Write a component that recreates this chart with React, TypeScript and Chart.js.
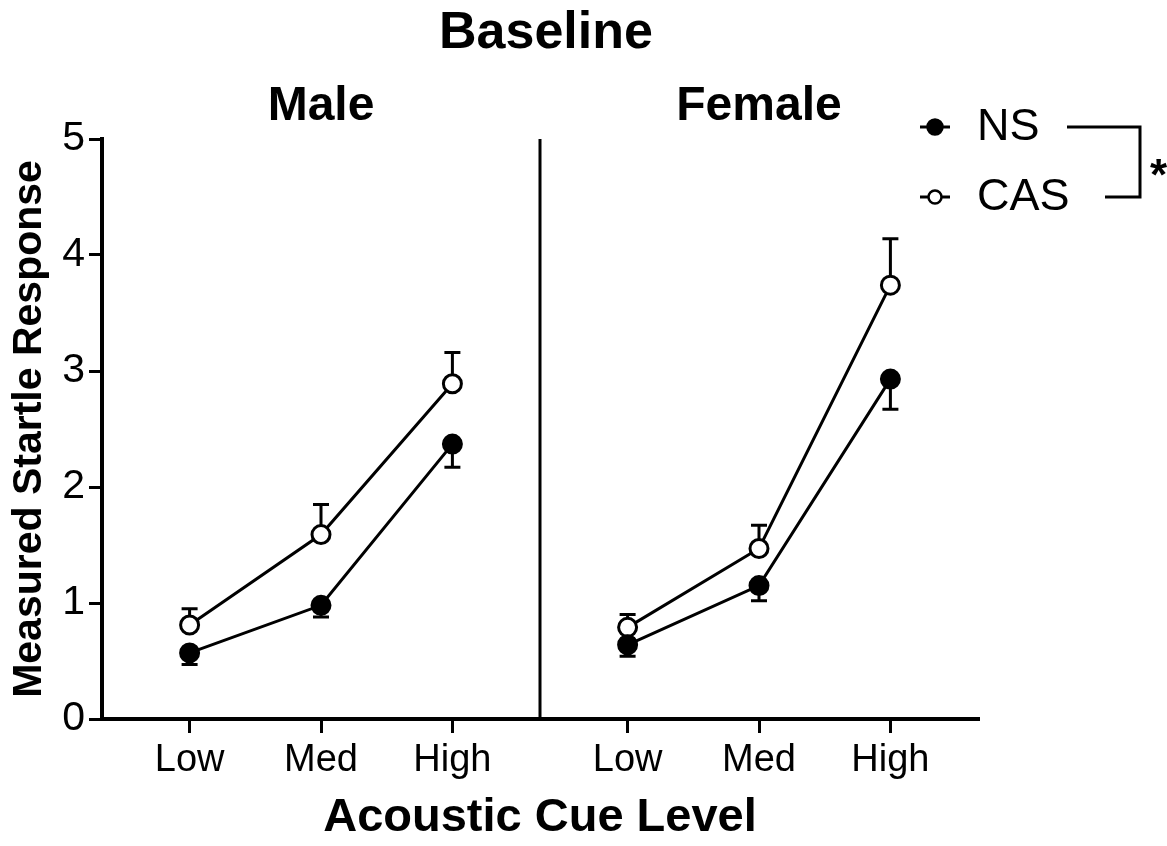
import React, { useEffect, useRef } from "react";
import { Chart, registerables } from "chart.js";

Chart.register(...registerables);

// ---- Data ----
const chartTitle = "Baseline";
const panels = ["Male", "Female"];
const categories = ["Low", "Med", "High"];
// positions of the categories on the linear x axis, per panel
const malePositions = [3, 6, 9];
const femalePositions = [13, 16, 19];
const dividerPosition = 11;
const xMin = 1;
const xMax = 21;

const maleNS = [0.57, 0.98, 2.37];
const maleNSsem = [0.1, 0.1, 0.2];
const maleCAS = [0.81, 1.59, 2.89];
const maleCASsem = [0.14, 0.26, 0.27];
const femaleNS = [0.64, 1.15, 2.93];
const femaleNSsem = [0.1, 0.13, 0.26];
const femaleCAS = [0.79, 1.47, 3.74];
const femaleCASsem = [0.11, 0.2, 0.4];

const yTicks = [0, 1, 2, 3, 4, 5];
const xTickPositions = [...malePositions, ...femalePositions];
const xTickLabels = [...categories, ...categories];
const legendLabels = ["NS", "CAS"];

const FONT = '"Liberation Sans", Arial, Helvetica, sans-serif';

function makeDataset(label: string, values: number[], sem: number[], dir: number, positions: number[], filled: boolean) {
  return {
    label,
    data: values.map((v, i) => ({ x: positions[i], y: v })),
    sem,
    dir,
    borderColor: "#000",
    borderWidth: 3,
    pointRadius: 9,
    pointHoverRadius: 9,
    pointBorderWidth: 3,
    pointBackgroundColor: filled ? "#000" : "#fff",
    pointBorderColor: "#000",
    tension: 0,
    fill: false,
    clip: false,
  };
}

const decorPlugin = {
  id: "decor",
  beforeDatasetsDraw(chart: any) {
    const ctx = chart.ctx;
    const xs = chart.scales.x;
    const ys = chart.scales.y;
    ctx.save();
    ctx.strokeStyle = "#000";
    ctx.lineWidth = 3;
    // panel divider
    const dx = xs.getPixelForValue(dividerPosition);
    ctx.beginPath();
    ctx.moveTo(dx, ys.getPixelForValue(yTicks[yTicks.length - 1]));
    ctx.lineTo(dx, ys.getPixelForValue(0));
    ctx.stroke();
    // error bars (one-sided)
    chart.data.datasets.forEach((ds: any, di: number) => {
      const meta = chart.getDatasetMeta(di);
      meta.data.forEach((pt: any, i: number) => {
        const v = ds.data[i].y + ds.sem[i] * ds.dir;
        const y1 = ys.getPixelForValue(v);
        ctx.beginPath();
        ctx.moveTo(pt.x, pt.y);
        ctx.lineTo(pt.x, y1);
        ctx.moveTo(pt.x - 8, y1);
        ctx.lineTo(pt.x + 8, y1);
        ctx.stroke();
      });
    });
    ctx.restore();
  },
  afterDraw(chart: any) {
    const ctx = chart.ctx;
    const xs = chart.scales.x;
    ctx.save();
    ctx.fillStyle = "#000";
    ctx.strokeStyle = "#000";
    // main title
    ctx.textAlign = "center";
    ctx.textBaseline = "alphabetic";
    ctx.font = `bold 52px ${FONT}`;
    ctx.fillText(chartTitle, 546, 48);
    // panel titles
    ctx.font = `bold 48px ${FONT}`;
    ctx.fillText(panels[0], xs.getPixelForValue(malePositions[1]), 120);
    ctx.fillText(panels[1], xs.getPixelForValue(femalePositions[1]), 120);

    // legend
    const items = [
      { label: legendLabels[0], y: 127, filled: true },
      { label: legendLabels[1], y: 197, filled: false },
    ];
    items.forEach((it) => {
      ctx.lineWidth = 3;
      ctx.beginPath();
      ctx.moveTo(920, it.y);
      ctx.lineTo(950, it.y);
      ctx.stroke();
      ctx.beginPath();
      ctx.arc(935, it.y, it.filled ? 7.5 : 6.5, 0, Math.PI * 2);
      ctx.fillStyle = it.filled ? "#000" : "#fff";
      ctx.fill();
      ctx.lineWidth = 2.5;
      ctx.stroke();
      ctx.fillStyle = "#000";
      ctx.font = `45px ${FONT}`;
      ctx.textAlign = "left";
      ctx.textBaseline = "middle";
      ctx.fillText(it.label, 977, it.y + 1);
    });
    // significance bracket
    ctx.lineWidth = 3;
    ctx.beginPath();
    ctx.moveTo(1067, 127);
    ctx.lineTo(1140, 127);
    ctx.lineTo(1140, 197);
    ctx.lineTo(1105, 197);
    ctx.stroke();
    ctx.font = `bold 44px ${FONT}`;
    ctx.textAlign = "left";
    ctx.textBaseline = "alphabetic";
    ctx.fillText("*", 1150, 190);
    ctx.restore();
  },
};

export default function App() {
  const canvasRef = useRef<HTMLCanvasElement | null>(null);

  useEffect(() => {
    document.body.style.margin = "0";
    const canvas = canvasRef.current;
    if (!canvas) return;
    const chart = new Chart(canvas, {
      type: "line",
      data: {
        datasets: [
          makeDataset("Male NS", maleNS, maleNSsem, -1, malePositions, true),
          makeDataset("Male CAS", maleCAS, maleCASsem, 1, malePositions, false),
          makeDataset("Female NS", femaleNS, femaleNSsem, -1, femalePositions, true),
          makeDataset("Female CAS", femaleCAS, femaleCASsem, 1, femalePositions, false),
        ] as any,
      },
      options: {
        animation: false,
        responsive: false,
        events: [],
        layout: { padding: { top: 139, right: 189, left: 0, bottom: 0 } },
        plugins: {
          legend: { display: false },
          tooltip: { enabled: false },
          title: { display: false },
        },
        scales: {
          x: {
            type: "linear",
            min: xMin,
            max: xMax,
            afterBuildTicks: (scale: any) => {
              scale.ticks = xTickPositions.map((v) => ({ value: v }));
            },
            afterFit: (scale: any) => {
              scale.height = 127;
            },
            ticks: {
              autoSkip: false,
              maxRotation: 0,
              color: "#000",
              padding: 5,
              font: { family: FONT, size: 38 },
              callback: (_v: any, i: number) => xTickLabels[i],
            },
            grid: {
              display: true,
              drawOnChartArea: false,
              drawTicks: true,
              tickLength: 14,
              tickWidth: 3,
              tickColor: "#000",
              lineWidth: 3,
              color: "#000",
            },
            border: { display: true, color: "#000", width: 4 },
            title: {
              display: true,
              text: "Acoustic Cue Level",
              color: "#000",
              font: { family: FONT, size: 47, weight: "bold" },
              padding: { top: 0, bottom: 0 },
            },
          },
          y: {
            type: "linear",
            min: 0,
            max: 5,
            afterBuildTicks: (scale: any) => {
              scale.ticks = yTicks.map((v) => ({ value: v }));
            },
            afterFit: (scale: any) => {
              scale.width = 102;
            },
            ticks: {
              color: "#000",
              padding: 4,
              font: { family: FONT, size: 41 },
            },
            grid: {
              display: true,
              drawOnChartArea: false,
              drawTicks: true,
              tickLength: 13,
              tickWidth: 3,
              tickColor: "#000",
              lineWidth: 3,
              color: "#000",
            },
            border: { display: true, color: "#000", width: 4 },
            title: {
              display: true,
              text: "Measured Startle Response",
              color: "#000",
              font: { family: FONT, size: 41, weight: "bold" },
              padding: { top: 5, bottom: 0 },
            },
          },
        },
      } as any,
      plugins: [decorPlugin],
    });
    return () => chart.destroy();
  }, []);

  return (
    <div style={{ width: 1167, height: 846, background: "#fff" }}>
      <canvas ref={canvasRef} width={1167} height={846} style={{ width: 1167, height: 846, display: "block" }} />
    </div>
  );
}
